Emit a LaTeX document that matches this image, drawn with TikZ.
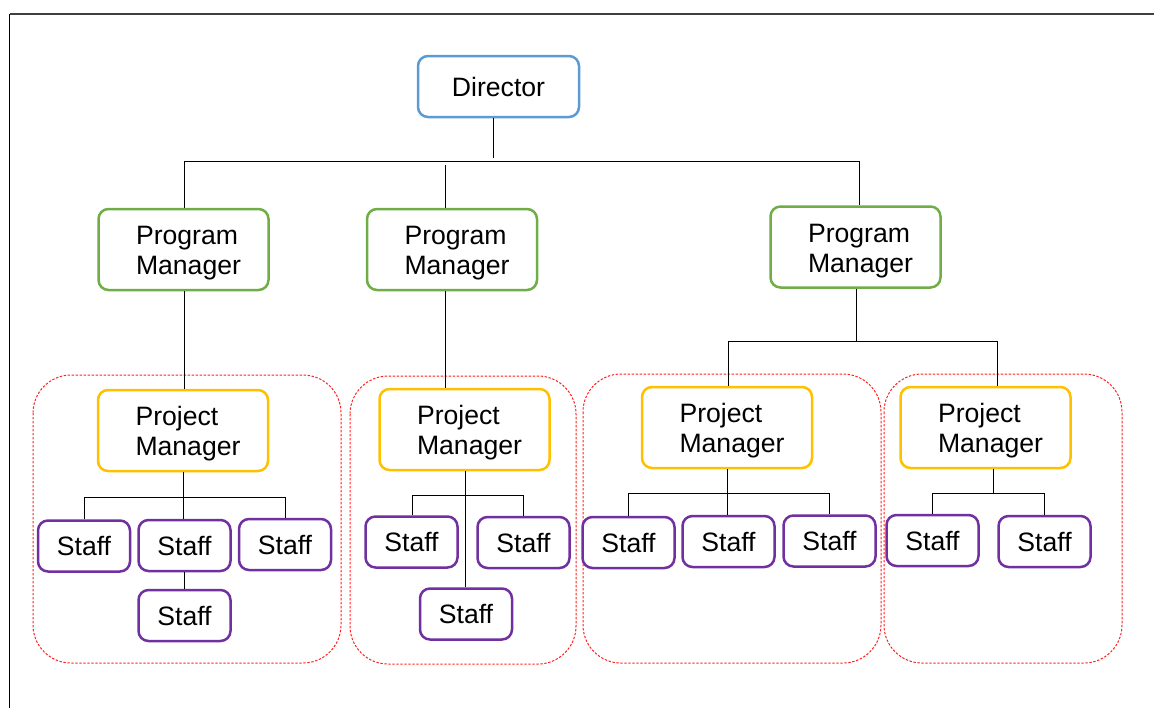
\documentclass[tikz,border=0pt]{standalone}
\usepackage{fontspec}
\setmainfont{Liberation Sans}
\definecolor{cblue}{HTML}{5B9BD5}
\definecolor{cgreen}{HTML}{70AD47}
\definecolor{cgold}{HTML}{FFC000}
\definecolor{cpurple}{HTML}{7030A0}
\definecolor{cred}{HTML}{FF2020}
\newcommand{\twolines}[2]{\raisebox{-2pt}[\height][\depth]{\begin{tabular}{@{\hspace{5pt}}l@{}}#1\\#2\end{tabular}}}
\tikzset{
  box/.style={draw, rounded corners=5pt, line width=1.25pt, fill=white, align=left,
    font=\fontsize{13.3}{15}\selectfont, inner sep=0pt},
  dirbox/.style={box, draw=cblue, minimum width=80.5pt, minimum height=30.5pt},
  pgmbox/.style={box, draw=cgreen, minimum width=85pt, minimum height=40.5pt},
  prjbox/.style={box, draw=cgold, minimum width=85pt, minimum height=40.5pt},
  staffbox/.style={box, draw=cpurple, minimum width=46pt, minimum height=25.5pt},
  conn/.style={draw=black, line width=0.5pt},
  grp/.style={draw=cred, line width=0.5pt, dash pattern=on 1.2pt off 0.8pt, rounded corners=19pt},
}
\begin{document}
\begin{tikzpicture}[x=0.5pt, y=-0.5pt]
\useasboundingbox (0,0) rectangle (1154,708);
% frame
\draw[line width=0.8pt, black!75] (9.5,14) -- (1154,14);
\draw[line width=0.8pt, black] (9.5,14) -- (9.5,708);
% groups
\draw[grp] (33,375) rectangle (341,663);
\draw[grp] (350,376) rectangle (576,664);
\draw[grp] (583,374) rectangle (881,663);
\draw[grp] (884,374) rectangle (1122,663);
% nodes
\node[dirbox] (dir) at (498.5,86.5) {Director};
\node[pgmbox] (pm1) at (183.5,249.5) {\twolines{Program}{Manager}};
\node[pgmbox] (pm2) at (452,249.5) {\twolines{Program}{Manager}};
\node[pgmbox] (pm3) at (855.5,247) {\twolines{Program}{Manager}};
\node[prjbox] (pj1) at (183,430.5) {\twolines{Project}{Manager}};
\node[prjbox] (pj2) at (464.5,429.5) {\twolines{Project}{Manager}};
\node[prjbox] (pj3) at (727,427.5) {\twolines{Project}{Manager}};
\node[prjbox] (pj4) at (985.5,427.5) {\twolines{Project}{Manager}};
\node[staffbox] (s1) at (84,546) {Staff};
\node[staffbox] (s2) at (184.5,545.5) {Staff};
\node[staffbox] (s3) at (285,544.5) {Staff};
\node[staffbox] (s4) at (184.5,615.5) {Staff};
\node[staffbox] (s5) at (411.5,542) {Staff};
\node[staffbox] (s6) at (523.5,542.5) {Staff};
\node[staffbox] (s7) at (466,614) {Staff};
\node[staffbox] (s8) at (628.5,542.5) {Staff};
\node[staffbox] (s9) at (728.5,541.5) {Staff};
\node[staffbox] (s10) at (829.5,541) {Staff};
\node[staffbox] (s11) at (932.5,540.5) {Staff};
\node[staffbox] (s12) at (1044.5,541.5) {Staff};
% director bus
\coordinate (b0) at (493,158);
\coordinate (b1) at (184,161);
\coordinate (b2) at (859,161);
\coordinate (b3) at (445,165);
\draw[conn] (dir.south -| b0) -- (b0);
\draw[conn] (b1) -- (b2);
\draw[conn] (b1) -- (b1 |- pm1.north);
\draw[conn] (b3) -- (b3 |- pm2.north);
\draw[conn] (b2) -- (b2 |- pm3.north);
% program -> project
\coordinate (c1) at (184,0);
\coordinate (c2) at (445.5,0);
\draw[conn] (pm1.south -| c1) -- (pj1.north -| c1);
\draw[conn] (pm2.south -| c2) -- (pj2.north -| c2);
\coordinate (d0) at (856,341);
\coordinate (d1) at (728,341);
\coordinate (d2) at (997,341);
\draw[conn] (pm3.south -| d0) -- (d0);
\draw[conn] (d1) -- (d2);
\draw[conn] (d1) -- (d1 |- pj3.north);
\draw[conn] (d2) -- (d2 |- pj4.north);
% group 1
\coordinate (e0) at (183.5,497);
\draw[conn] (pj1.south -| e0) -- (s2.north -| e0);
\draw[conn] (s1.north |- e0) -- (s3.north |- e0);
\draw[conn] (s1.north |- e0) -- (s1.north);
\draw[conn] (s3.north |- e0) -- (s3.north);
\draw[conn] (s2.south) -- (s4.north);
% group 2
\coordinate (f0) at (465,495);
\coordinate (f1) at (412,495);
\coordinate (f2) at (523,495);
\draw[conn] (pj2.south -| f0) -- (s7.north -| f0);
\draw[conn] (f1) -- (f2);
\draw[conn] (f1) -- (s5.north -| f1);
\draw[conn] (f2) -- (s6.north -| f2);
% group 3
\coordinate (g0) at (727,493);
\coordinate (g1) at (628,493);
\coordinate (g2) at (829,493);
\draw[conn] (pj3.south -| g0) -- (s9.north -| g0);
\draw[conn] (g1) -- (g2);
\draw[conn] (g1) -- (s8.north -| g1);
\draw[conn] (g2) -- (s10.north -| g2);
% group 4
\coordinate (h0) at (993,493);
\coordinate (h1) at (932,493);
\coordinate (h2) at (1044,493);
\draw[conn] (pj4.south -| h0) -- (h0);
\draw[conn] (h1) -- (h2);
\draw[conn] (h1) -- (s11.north -| h1);
\draw[conn] (h2) -- (s12.north -| h2);
\end{tikzpicture}
\end{document}
